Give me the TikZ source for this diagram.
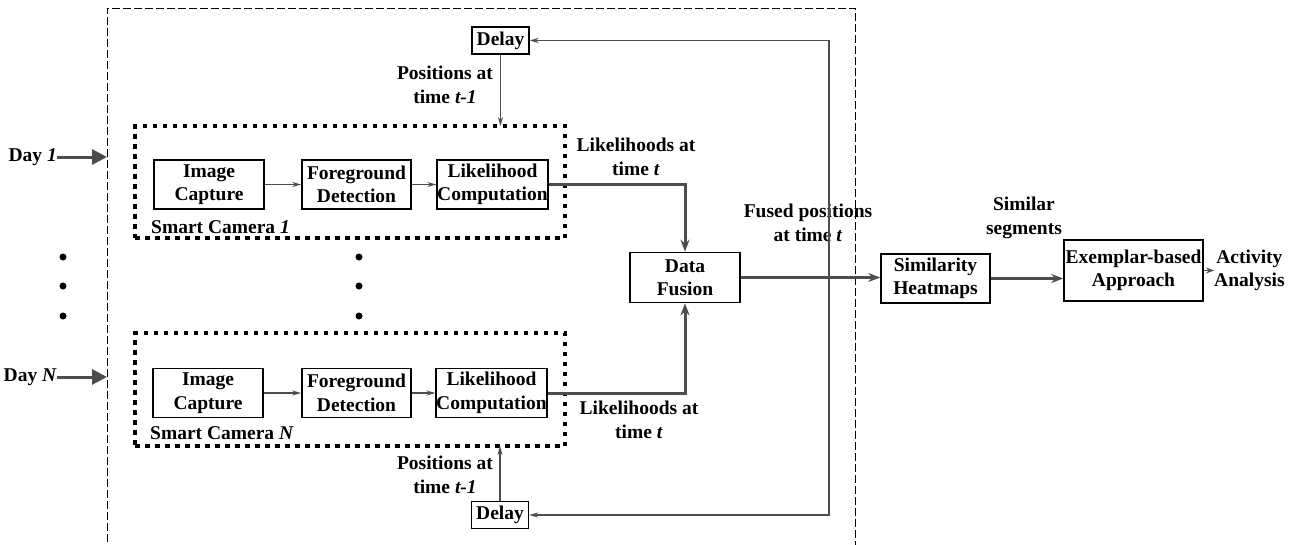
\documentclass[tikz,border=0pt]{standalone}
\usepackage{fontspec}
\setmainfont{Liberation Serif}
\usetikzlibrary{arrows.meta}
\definecolor{conn}{HTML}{4D4D4D}
\begin{document}
\begin{tikzpicture}[x=1pt,y=-1pt,
  font=\fontsize{19.5}{23.5}\selectfont\bfseries,
  blk/.style={draw=black,line width=1.6pt,inner sep=0pt,align=center,minimum height=49pt},
  dly/.style={draw=black,line width=1.2pt,inner sep=0pt,minimum width=57pt,minimum height=27pt},
  lbl/.style={align=center,inner sep=0pt},
  cambox/.style={draw=black,line width=4.5pt,dash pattern=on 4.5pt off 5.5pt,minimum width=430pt,inner sep=0pt,outer sep=0pt},
  outerbox/.style={draw=black,line width=1pt,dash pattern=on 8pt off 3pt,minimum width=748pt,minimum height=552pt,inner sep=0pt,outer sep=0pt},
  thinarr/.style={draw=conn,line width=1.5pt,-{Stealth[length=9pt,width=5pt]}},
  thickarr/.style={draw=conn,line width=3pt,-{Stealth[length=12pt,width=9pt]}},
  dayarr/.style={draw=conn,line width=3pt,-{Triangle[length=15pt,width=15pt]}},
  dot/.style={circle,fill=black,inner sep=0pt,minimum size=7pt}
]
\useasboundingbox (0,0) rectangle (1299,544);
% outer dashed box
\node[outerbox] (outer) at (481,284) {};
% cameras
\node[cambox,minimum height=112pt] (cam1) at (350,182) {};
\node[cambox,minimum height=113pt] (camN) at (350,389.5) {};
\node[blk,minimum width=110pt] (ic1) at (209,184.5) {Image\\Capture};
\node[blk,minimum width=109pt] (fd1) at (356.5,184.5) {Foreground\\Detection};
\node[blk,minimum width=109pt] (lc1) at (492.5,184.5) {Likelihood\\Computation};
\node[lbl,anchor=west] (cam1lbl) at (151,227) {Smart Camera \textit{1}};
\node[blk,minimum width=110pt] (icN) at (208,393) {Image\\Capture};
\node[blk,minimum width=109pt] (fdN) at (356.5,393) {Foreground\\Detection};
\node[blk,minimum width=109pt] (lcN) at (491.5,393) {Likelihood\\Computation};
\node[lbl,anchor=west] (camNlbl) at (150,433) {Smart Camera \textit{N}};
\draw[thinarr] (ic1) -- (fd1);
\draw[thinarr] (fd1) -- (lc1);
\draw[thinarr] (icN) -- (fdN);
\draw[thinarr] (fdN) -- (lcN);
% delays
\node[dly] (delay1) at (500.5,40.5) {Delay};
\node[dly] (delayN) at (500,515) {Delay};
\node[lbl] (pos1) at (445,85) {Positions at\\time \textit{t-1}};
\node[lbl] (posN) at (445,475) {Positions at\\time \textit{t-1}};
\draw[thinarr] (delay1.south) -- (delay1.south |- cam1.north);
\draw[thinarr] (delayN.north) -- (delayN.north |- camN.south);
% fusion
\node[blk,minimum width=110pt,minimum height=50pt] (df) at (685,277.5) {Data\\Fusion};
\node[lbl] (lik1) at (636,157) {Likelihoods at\\time \textit{t}};
\node[lbl] (likN) at (639,420) {Likelihoods at\\time \textit{t}};
\draw[thickarr] (lc1.east) -| (df.north);
\draw[thickarr] (lcN.east) -| (df.south);
% right part
\node[blk,minimum width=109pt] (sh) at (935.5,278.5) {Similarity\\Heatmaps};
\node[blk,minimum width=139pt,minimum height=61pt] (ex) at (1133.5,270.5) {Exemplar-based\\Approach};
\node[lbl,anchor=west] (aa) at (1214,270.5) {Activity\\Analysis};
\node[lbl] (fused) at (808,223) {Fused positions\\at time \textit{t}};
\node[lbl] (simseg) at (1024,218) {Similar\\segments};
\draw[thickarr] (df.east) -- (df.east -| sh.west);
\draw[thickarr] (sh.east) -- (sh.east -| ex.west);
\draw[draw=conn,line width=1.5pt,-{Stealth[length=8pt,width=6pt]}] (ex.east) -- (aa.west);
% feedback
\coordinate (j) at (829,277.5);
\draw[thinarr] (j) |- (delay1.east);
\draw[thinarr] (j) |- (delayN.east);
% days
\node[lbl,anchor=east] (day1) at (57,157) {Day \textit{1}};
\node[lbl,anchor=east] (dayN) at (57,377) {Day \textit{N}};
\draw[dayarr] (day1.east) -- (day1.east -| outer.west);
\draw[dayarr] (dayN.east) -- (dayN.east -| outer.west);
% dots
\node[dot] (dl1) at (63,257) {};
\node[dot] (dl2) at (63,286) {};
\node[dot] (dl3) at (63,316) {};
\node[dot] (dm1) at (359,257) {};
\node[dot] (dm2) at (359,286) {};
\node[dot] (dm3) at (359,316) {};
\end{tikzpicture}
\end{document}
